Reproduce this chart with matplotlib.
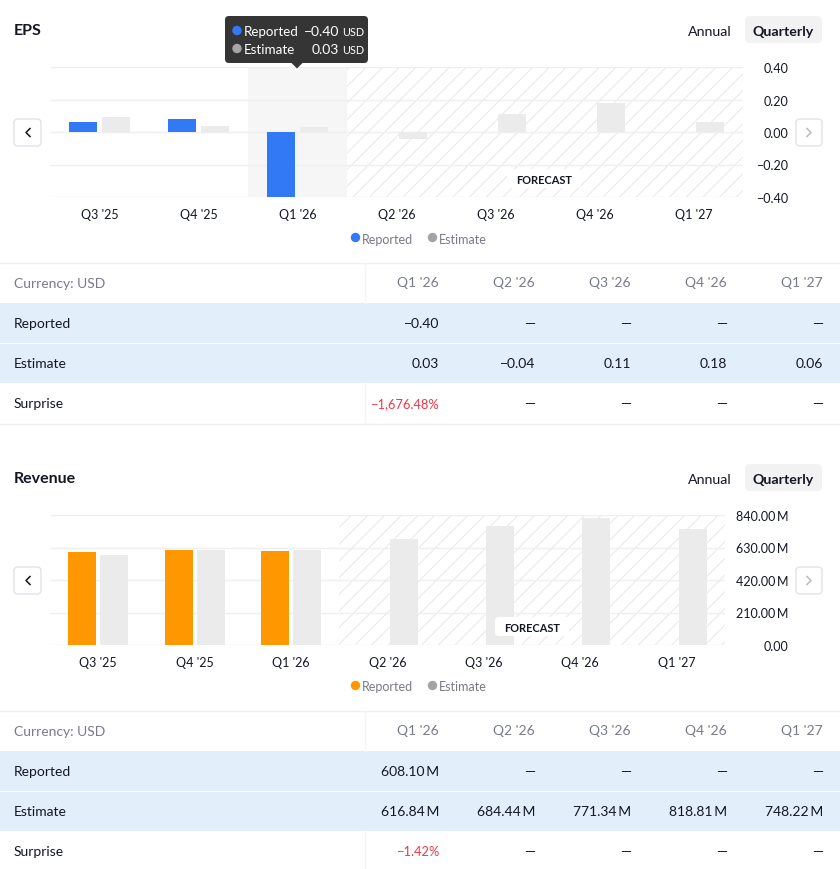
import numpy as np
import matplotlib
matplotlib.use('Agg')
import matplotlib.pyplot as plt
from matplotlib.patches import FancyBboxPatch, Rectangle, Circle, Polygon
from matplotlib.lines import Line2D
from matplotlib.ticker import FixedLocator, FuncFormatter

plt.rcParams['font.family'] = ['Lato', 'DejaVu Sans']
plt.rcParams['hatch.linewidth'] = 0.7

# ---------------- data ----------------
quarters = ["Q3 '25", "Q4 '25", "Q1 '26", "Q2 '26", "Q3 '26", "Q4 '26", "Q1 '27"]
n_hist = 3

eps_reported = [0.06, 0.08, -0.40, None, None, None, None]
eps_estimate = [0.09, 0.04, 0.03, -0.04, 0.11, 0.18, 0.06]
eps_surprise = [-1676.48, None, None, None, None]
eps_ticks = [-0.40, -0.20, 0.00, 0.20, 0.40]

rev_reported = [598.0, 615.0, 608.10, None, None, None, None]          # millions USD
rev_estimate = [582.0, 613.0, 616.84, 684.44, 771.34, 818.81, 748.22]  # millions USD
rev_surprise = [-1.42, None, None, None, None]
rev_ticks = [0, 210, 420, 630, 840]

table_cols = quarters[2:]
currency = "USD"

# ---------------- style ----------------
DARK = '#131722'
GRAY = '#787b86'
BLUE = '#3179f5'
ORANGE = '#ff9800'
EST = '#ebebeb'
RED = '#f23645'
BAND = '#e3eefb'
LINE = '#eeeff2'
MINUS = '\u2212'
THIN = '\u2009'
TY = 1.5  # text vertical nudge (px)

W, H = 840, 870
fig = plt.figure(figsize=(W / 100, H / 100), dpi=100)


def px_axes(x0, y0, x1, y1):
    return fig.add_axes([x0 / W, 1 - y1 / H, (x1 - x0) / W, (y1 - y0) / H])


def fmt_num(v, dec=2):
    s = f"{v:,.{dec}f}"
    return s.replace('-', MINUS)


def draw_chart(ax, rep, est, ticks, yfmt, rep_color, highlight, label_right_px, ax_right_px):
    x = np.arange(len(quarters))
    rep = np.array([np.nan if v is None else v for v in rep], float)
    est = np.array(est, float)
    ax.set_xlim(-0.5, len(quarters) - 0.5)
    ax.set_ylim(ticks[0], ticks[-1])
    if highlight is not None:
        ax.axvspan(highlight - 0.5, highlight + 0.5, facecolor='#f6f6f6',
                   edgecolor='none', zorder=0.3)
    ax.axvspan(n_hist - 0.5, len(quarters) - 0.5, facecolor='none',
               edgecolor='#e8e8e8', hatch='//', linewidth=0, zorder=0.4)
    ax.bar(x - 0.167, rep, width=0.29, color=rep_color, zorder=2)
    ax.bar(x + 0.167, est, width=0.29, color=EST, zorder=2)
    for s in ax.spines.values():
        s.set_visible(False)
    ax.set_axisbelow(True)
    ax.yaxis.grid(True, color='#efefef', linewidth=1)
    ax.patch.set_alpha(0)
    ax.set_xticks(x)
    ax.set_xticklabels(quarters)
    ax.tick_params(axis='x', length=0, pad=7.6, labelsize=9, labelcolor=DARK)
    ax.yaxis.set_major_locator(FixedLocator(ticks))
    ax.yaxis.set_major_formatter(FuncFormatter(yfmt))
    ax.yaxis.tick_right()
    ax.tick_params(axis='y', length=0, labelsize=9, labelcolor=DARK,
                   pad=(label_right_px - ax_right_px) * 0.72)
    for t in ax.yaxis.get_majorticklabels():
        t.set_horizontalalignment('right')


eps_fmt = lambda v, p: fmt_num(v)
rev_fmt = lambda v, p: "0.00" if v == 0 else f"{v:.2f}{THIN}M"

ax1 = px_axes(50, 68, 743, 198)
draw_chart(ax1, eps_reported, eps_estimate, eps_ticks, eps_fmt, BLUE, 2, 788, 743)
ax2 = px_axes(50, 516, 725, 646)
draw_chart(ax2, rev_reported, rev_estimate, rev_ticks, rev_fmt, ORANGE, None, 788, 725)

# ---------------- overlay (layout elements) ----------------
ov = fig.add_axes([0, 0, 1, 1])
ov.set_xlim(0, W)
ov.set_ylim(H, 0)
ov.axis('off')


def rbox(x0, y0, x1, y1, r, fc, ec='none', lw=0, z=3):
    ov.add_patch(FancyBboxPatch((x0 + r, y0 + r), x1 - x0 - 2 * r, y1 - y0 - 2 * r,
                                boxstyle=f'round,pad={r}', fc=fc, ec=ec, lw=lw, zorder=z))


def txt(x, y, s, **kw):
    kw.setdefault('va', 'center')
    kw.setdefault('zorder', 4)
    ov.text(x, y + TY, s, **kw)


def section(title, dy, rep_color, forecast_cx):
    # header
    txt(14, 29.5 + dy, title, fontsize=11.5, fontweight='bold', color=DARK, ha='left')
    txt(710, 30.5 + dy, 'Annual', fontsize=10.2, color=DARK, ha='center')
    rbox(745, 17 + dy, 822, 44 + dy, 5, '#f2f2f2')
    txt(783.5, 30.5 + dy, 'Quarterly', fontsize=10.2, fontweight='bold', color=DARK,
        ha='center')
    # nav buttons
    rbox(14, 120 + dy, 41, 147 + dy, 4, 'white', ec='#e0e3eb', lw=1)
    ov.add_line(Line2D([30, 26, 30], [129.5 + dy, 133.5 + dy, 137.5 + dy],
                       color=DARK, lw=1.1, zorder=4))
    rbox(796, 120 + dy, 822, 147 + dy, 4, 'white', ec='#e0e3eb', lw=1)
    ov.add_line(Line2D([807, 811, 807], [129.5 + dy, 133.5 + dy, 137.5 + dy],
                       color='#b8bac2', lw=1.1, zorder=4))
    # forecast badge
    rbox(forecast_cx - 37, 170 + dy, forecast_cx + 37, 189 + dy, 4, 'white')
    txt(forecast_cx, 179.3 + dy, 'FORECAST', fontsize=7.9, fontweight='bold',
        color=DARK, ha='center')
    # legend
    ov.add_patch(Circle((355.5, 238.5 + dy), 4, color=rep_color, zorder=4))
    txt(362, 238 + dy, 'Reported', fontsize=9, color=GRAY, ha='left')
    ov.add_patch(Circle((432.5, 238.5 + dy), 4, color='#a3a3a3', zorder=4))
    txt(439, 238 + dy, 'Estimate', fontsize=9, color=GRAY, ha='left')


def table(dy, rep_vals, est_vals, surp_vals, vfmt):
    col_right = [439, 535, 631, 727, 823]
    ov.add_line(Line2D([0, W], [263.5 + dy, 263.5 + dy], color=LINE, lw=1))
    ov.add_patch(Rectangle((0, 304 + dy), W, 40, fc=BAND, ec='none', zorder=1))
    ov.add_patch(Rectangle((0, 345 + dy), W, 39, fc=BAND, ec='none', zorder=1))
    ov.add_line(Line2D([0, W], [424.5 + dy, 424.5 + dy], color=LINE, lw=1))
    ov.add_line(Line2D([365, 365], [264 + dy, 304 + dy], color='#f5f5f7', lw=1))
    ov.add_line(Line2D([365, 365], [384 + dy, 424 + dy], color='#f5f5f7', lw=1))
    txt(14, 283 + dy, f'Currency: {currency}', fontsize=10, color=GRAY, ha='left')
    for cx, q in zip(col_right, table_cols):
        txt(cx, 282 + dy, q, fontsize=10, color=GRAY, ha='right')
    rows = [('Reported', 322.5, rep_vals), ('Estimate', 362.5, est_vals),
            ('Surprise', 402.5, surp_vals)]
    for name, y, vals in rows:
        txt(14, y + dy, name, fontsize=10, color=DARK, ha='left')
        for cx, v in zip(col_right, vals):
            if v is None:
                s, col = '\u2014', DARK
            elif name == 'Surprise':
                s = fmt_num(v) + '%'
                col = RED if v < 0 else '#089981'
            else:
                s, col = vfmt(v), DARK
            fs = 9.3 if name == 'Surprise' and v is not None else 10
            txt(cx, y + dy, s, fontsize=fs, color=col, ha='right')


section('EPS', 0, BLUE, 544)
section('Revenue', 448, ORANGE, 532)

table(0, eps_reported[2:], eps_estimate[2:], eps_surprise, lambda v: fmt_num(v))
table(448, rev_reported[2:], rev_estimate[2:], rev_surprise,
      lambda v: f"{v:.2f}{THIN}M")

# tooltip for the hovered EPS quarter (Q1 '26)
rbox(225, 17, 368, 64, 4, '#353535', z=5)
ov.add_patch(Polygon([[291, 63.5], [303, 63.5], [297, 69.5]], closed=True,
                     fc='#353535', ec='none', zorder=5))
ov.add_patch(Circle((237, 31.5), 4, color=BLUE, zorder=6))
ov.add_patch(Circle((237, 49.5), 4, color='#a6a6a6', zorder=6))
txt(244, 30.5, 'Reported', fontsize=9.6, color='white', ha='left', zorder=6)
txt(244, 48.5, 'Estimate', fontsize=9.6, color='white', ha='left', zorder=6)
txt(339, 30.5, fmt_num(eps_reported[2]), fontsize=10, color='white', ha='right', zorder=6)
txt(339, 48.5, fmt_num(eps_estimate[2]), fontsize=10, color='white', ha='right', zorder=6)
txt(342, 31, currency, fontsize=7.8, color='white', ha='left', zorder=6)
txt(342, 49, currency, fontsize=7.8, color='white', ha='left', zorder=6)

fig.savefig('out.png', dpi=100, facecolor='white')
